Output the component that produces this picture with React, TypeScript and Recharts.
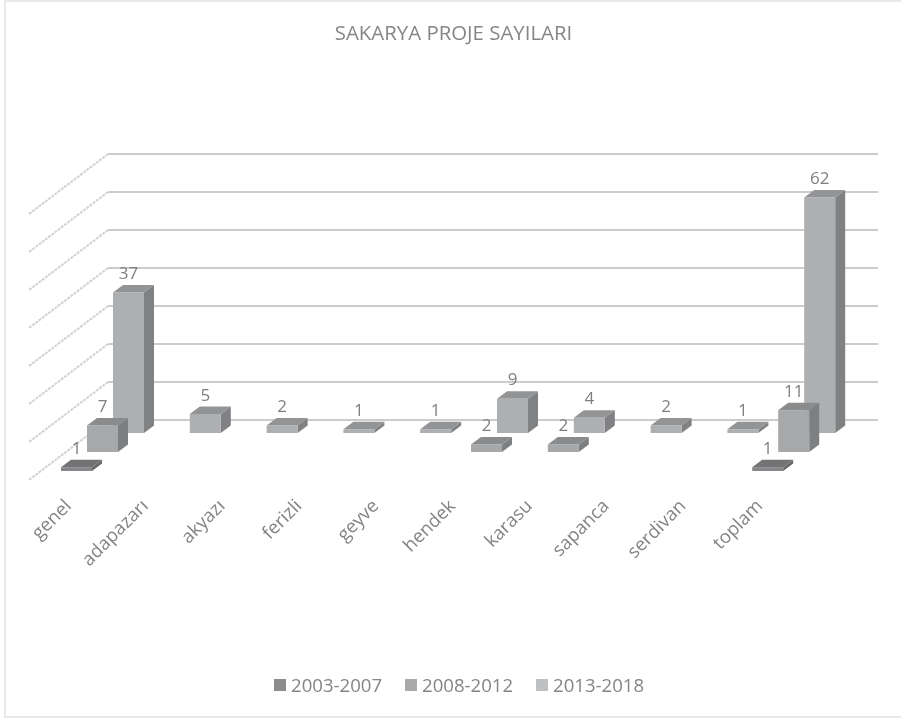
import React from "react";
import { BarChart, Bar, XAxis, YAxis, CartesianGrid, Legend, LabelList } from "recharts";

const categories = ["genel", "adapazarı", "akyazı", "ferizli", "geyve", "hendek", "karasu", "sapanca", "serdivan", "toplam"];
const s2003 = [1, null, null, null, null, null, null, null, null, 1];
const s2008 = [7, null, null, null, null, 2, 2, null, null, 11];
const s2013 = [37, 5, 2, 1, 1, 9, 4, 2, 1, 62];
const yTicks = [0, 10, 20, 30, 40, 50, 60, 70];

const data = categories.map((name, i) => ({
  name,
  "2003-2007": s2003[i],
  "2008-2012": s2008[i],
  "2013-2018": s2013[i],
}));

const FONT = "'Open Sans', sans-serif";
const TEXT = "#7f7f7f";
const DX = 10;
const DY = 7.5;

const makeShape = (rowShift: number, front: string, top: string, side: string) => (p: any) => {
  const { x, y, width, height, value } = p;
  if (value == null || !height || height <= 0) return <g />;
  const t = y + rowShift;
  const b = t + height;
  const r = x + width;
  return (
    <g>
      <polygon points={`${r},${t} ${r + DX},${t - DY} ${r + DX},${b - DY} ${r},${b}`} fill={side} />
      <polygon points={`${x},${t} ${x + DX},${t - DY} ${r + DX},${t - DY} ${r},${t}`} fill={top} />
      <rect x={x} y={t} width={width} height={height} fill={front} />
    </g>
  );
};

const makeLabel = (rowShift: number) => (p: any) => {
  const { x, y, width, value } = p;
  if (value == null) return <g />;
  return (
    <text x={x + width / 2} y={y + rowShift - DY - 6} textAnchor="middle" fontFamily={FONT} fontSize={17} fill={TEXT}>
      {value}
    </text>
  );
};

const gridLine = (p: any) => {
  const { x1, x2, y1, key } = p;
  const backY = y1 - 13;
  return (
    <g key={key}>
      <line x1={x1 + 44} y1={backY} x2={x2 + 46} y2={backY} stroke="#cccccc" strokeWidth={1.8} />
      <line x1={x1 + 44} y1={backY} x2={x1 - 35} y2={backY + 60} stroke="#d2d2d2" strokeWidth={2} strokeDasharray="3 1" />
    </g>
  );
};

const catTick = (p: any) => {
  const ax = p.x - 30;
  const ay = p.y + 66;
  return (
    <text x={ax} y={ay} transform={`rotate(-45 ${ax} ${ay})`} textAnchor="end" fontFamily={FONT} fontSize={18.5} fill="#848484">
      {p.payload.value}
    </text>
  );
};

const legendContent = (props: any) => (
  <div style={{ display: "flex", fontFamily: FONT, fontSize: 18.6, color: "#858585", lineHeight: "20px" }}>
    {[...props.payload]
      .sort((a: any, b: any) => String(a.value).localeCompare(String(b.value)))
      .map((it: any) => (
        <div key={it.value} style={{ display: "flex", alignItems: "center", width: 131 }}>
          <span style={{ width: 12, height: 12, background: it.color, marginRight: 5, display: "inline-block" }} />
          {it.value}
        </div>
      ))}
  </div>
);

export default function App() {
  return (
    <div style={{ position: "absolute", left: 0, top: 0, width: 901, height: 719, background: "#fff", overflow: "hidden" }}>
      <div style={{ position: "absolute", left: 4, top: 0, width: 910, height: 718, border: "2px solid #e8e8e8", boxSizing: "border-box" }} />
      <div style={{ position: "absolute", left: 0, top: 20, width: 907, textAlign: "center", fontFamily: FONT, fontSize: 20.4, color: "#868686", lineHeight: "24px", filter: "blur(0.3px)" }}>
        SAKARYA PROJE SAYILARI
      </div>
      <BarChart
        width={901}
        height={719}
        data={data}
        barSize={31}
        barGap={-57}
        margin={{ top: 167, right: 69, bottom: 256, left: 64 }}
        style={{ position: "absolute", left: 0, top: 0, filter: "blur(0.4px)" }}
      >
        <CartesianGrid vertical={false} horizontal={gridLine} />
        <XAxis dataKey="name" interval={0} height={30} axisLine={false} tickLine={false} tick={catTick} />
        <YAxis hide domain={[0, 70]} ticks={yTicks} />
        <Legend
          layout="horizontal"
          verticalAlign="middle"
          align="center"
          content={legendContent}
          wrapperStyle={{ top: 675, left: 274, width: 400, bottom: "auto" }}
        />
        <Bar dataKey="2013-2018" fill="#bfc0c1" isAnimationActive={false} shape={makeShape(0, "#aeafb1", "#939496", "#808183")}>
          <LabelList dataKey="2013-2018" content={makeLabel(0)} />
        </Bar>
        <Bar dataKey="2008-2012" fill="#a9a9a9" isAnimationActive={false} shape={makeShape(19, "#a6a8a9", "#8a8b8d", "#7e7f81")}>
          <LabelList dataKey="2008-2012" content={makeLabel(19)} />
        </Bar>
        <Bar dataKey="2003-2007" fill="#8b8b8d" isAnimationActive={false} shape={makeShape(38, "#858688", "#727375", "#68696b")}>
          <LabelList dataKey="2003-2007" content={makeLabel(38)} />
        </Bar>
      </BarChart>
    </div>
  );
}
